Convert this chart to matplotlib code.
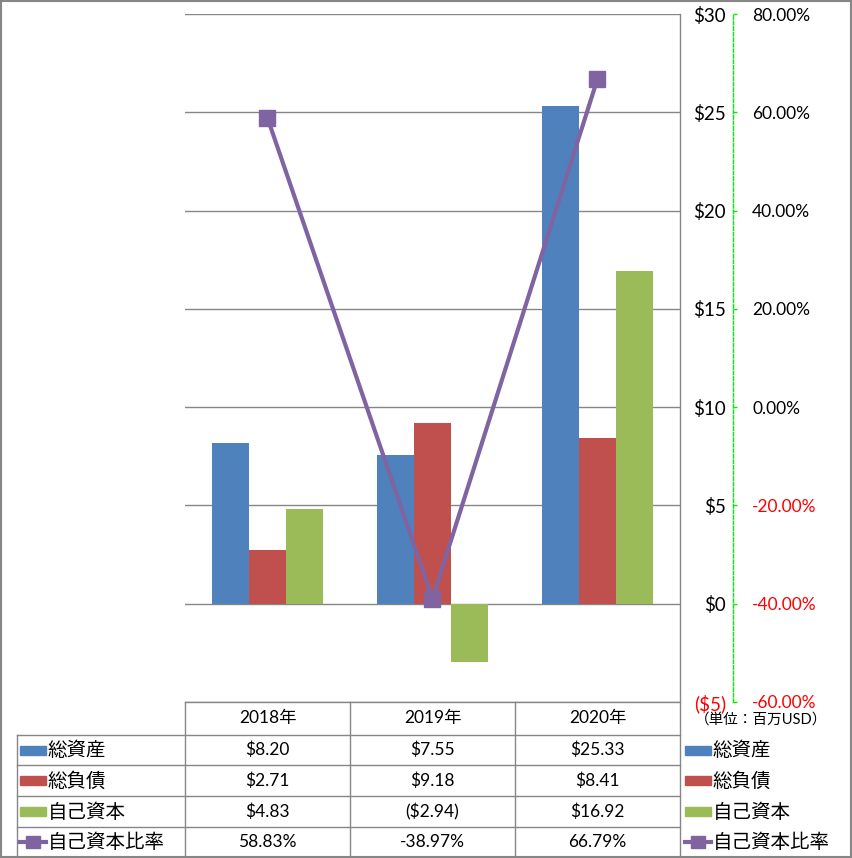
import numpy as np
import matplotlib
matplotlib.use("Agg")
import matplotlib.pyplot as plt
from matplotlib.lines import Line2D
from matplotlib.patches import Rectangle

plt.rcParams['font.family'] = ['Lato', 'Noto Sans CJK JP', 'DejaVu Sans']
plt.rcParams['text.parse_math'] = False

# data
years = ['2018年', '2019年', '2020年']
assets = [8.20, 7.55, 25.33]
liabilities = [2.71, 9.18, 8.41]
equity = [4.83, -2.94, 16.92]
equity_ratio = [58.83, -38.97, 66.79]
series_names = ['総資産', '総負債', '自己資本', '自己資本比率']

BLUE = '#4F81BD'
RED = '#C0504D'
GREEN = '#9BBB59'
PURPLE = '#8064A2'
GRID = '#868686'
LIME = '#00EE00'

W, H = 853, 858
fig = plt.figure(figsize=(W / 100, H / 100), dpi=100)


def fx(px):
    return px / W


def fy(py):
    return 1 - py / H


# plot area in pixels
L, R, T, B = 185, 680, 14, 702
ax = fig.add_axes([fx(L), fy(B), fx(R) - fx(L), fy(T) - fy(B)])

x = np.arange(len(years))
bw = 0.224
ax.bar(x - bw, assets, bw, color=BLUE, zorder=2)
ax.bar(x, liabilities, bw, color=RED, zorder=2)
ax.bar(x + bw, equity, bw, color=GREEN, zorder=2)
ax.set_xlim(-0.5, 2.5)
ax.set_ylim(-5, 30)
ax.set_xticks([])
yt = np.arange(-5, 31, 5)
ax.set_yticks(yt)
ax.set_yticklabels([f'${v}' if v >= 0 else f'(${abs(v)})' for v in yt])
ax.grid(axis='y', color=GRID, lw=1, zorder=0)
for s in ['left', 'top', 'bottom', 'right']:
    ax.spines[s].set_visible(False)

ax2 = ax.twinx()
ax2.plot(x, equity_ratio, color=PURPLE, lw=3, marker='s', ms=12,
         markerfacecolor=PURPLE, markeredgecolor=PURPLE, zorder=5)
ax2.set_ylim(-60, 80)
pt = np.arange(-60, 81, 20)
ax2.set_yticks(pt)
ax2.set_yticklabels([f'{v:.2f}%' for v in pt])
for s in ['left', 'top', 'bottom']:
    ax2.spines[s].set_visible(False)
ax2.spines['right'].set_position(('outward', 38))
ax2.spines['right'].set_color(LIME)
ax2.spines['right'].set_linestyle((0, (2.5, 1.5)))
ax2.spines['right'].set_linewidth(1)
ax2.tick_params(axis='y', length=3, width=1, color=LIME, labelsize=12.5)

# primary labels on the right, after twinx
ax.yaxis.tick_right()
ax.tick_params(axis='y', left=False, right=False, labelleft=False, labelright=True,
               length=0, pad=33, labelsize=13.5)

# overlay for table, legend and borders (pixel coordinates)
ov = fig.add_axes([0, 0, 1, 1], zorder=10)
ov.set_xlim(0, W)
ov.set_ylim(H, 0)
ov.axis('off')
ov.patch.set_alpha(0)


def hline(y, x0, x1):
    ov.add_line(Line2D([x0, x1], [y, y], color=GRID, lw=1))


def vline(xp, y0, y1):
    ov.add_line(Line2D([xp, xp], [y0, y1], color=GRID, lw=1))


# outer frame
ov.add_patch(Rectangle((1, 1), W - 2.5, H - 2.5, fill=False, ec=GRID, lw=1.5))

cols = [185, 350, 515, 680]
rows = [702, 735, 765, 796, 827, 857]
vline(R, T, H)
for c in cols[:-1]:
    vline(c, rows[0], H)
vline(17, rows[1], H)
hline(rows[0], cols[0], cols[-1])
for r in rows[1:-1]:
    hline(r, 17, cols[-1])

centers = [(cols[i] + cols[i + 1]) / 2 for i in range(3)]
for cx, yr in zip(centers, years):
    ov.text(cx, (rows[0] + rows[1]) / 2, yr, ha='center', va='center', fontsize=12.5)


def dollar(v):
    return f'${v:.2f}' if v >= 0 else f'(${abs(v):.2f})'


table_rows = [
    [dollar(v) for v in assets],
    [dollar(v) for v in liabilities],
    [dollar(v) for v in equity],
    [f'{v:.2f}%' for v in equity_ratio],
]
for ri, vals in enumerate(table_rows):
    cy = (rows[ri + 1] + rows[ri + 2]) / 2
    for cx, t in zip(centers, vals):
        ov.text(cx, cy, t, ha='center', va='center', fontsize=12.5)

colors = [BLUE, RED, GREEN, PURPLE]


def legend_key(x0, cy, col, is_line):
    if is_line:
        ov.add_line(Line2D([x0, x0 + 26], [cy, cy], color=col, lw=3))
        ov.add_patch(Rectangle((x0 + 6, cy - 6), 14, 12, color=col))
    else:
        ov.add_patch(Rectangle((x0, cy - 4.5), 26, 9, color=col))


for ri, name in enumerate(series_names):
    cy = (rows[ri + 1] + rows[ri + 2]) / 2
    legend_key(20, cy, colors[ri], ri == 3)
    ov.text(48, cy, name, ha='left', va='center', fontsize=14)
    legend_key(685, cy, colors[ri], ri == 3)
    ov.text(713, cy, name, ha='left', va='center', fontsize=14)

ov.text(695, 720, '（単位：百万USD）', ha='left', va='center', fontsize=10.5)

# right-align primary labels, set secondary pad, colour negatives
fig.canvas.draw()
for tick in ax2.yaxis.get_major_ticks():
    tick.set_pad(11)
for lab in ax.get_yticklabels():
    lab.set_horizontalalignment('right')
    if lab.get_text().startswith('('):
        lab.set_color('#FF0000')
for lab in ax2.get_yticklabels():
    if lab.get_text().startswith('-'):
        lab.set_color('#FF0000')

fig.savefig('out.png', dpi=100)
